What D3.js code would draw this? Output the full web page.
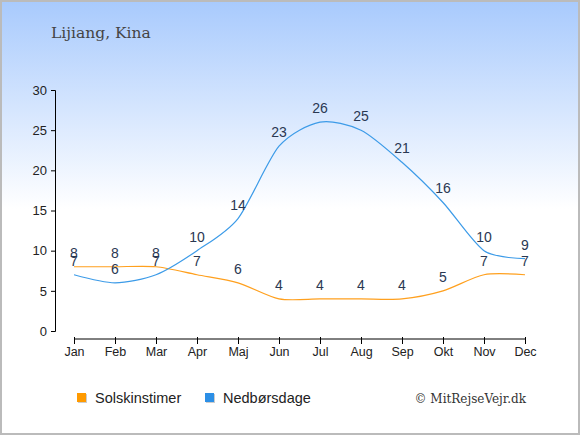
<!DOCTYPE html>
<html>
<head>
<meta charset="utf-8">
<script src="https://cdn.jsdelivr.net/npm/d3@7"></script>
<style>
  html, body { margin: 0; padding: 0; background: #fff; }
  svg { display: block; }
</style>
</head>
<body>
<div id="chart"></div>
<script>
const months = ["Jan", "Feb", "Mar", "Apr", "Maj", "Jun", "Jul", "Aug", "Sep", "Okt", "Nov", "Dec"];
const sunHours = [8, 8, 8, 7, 6, 4, 4, 4, 4, 5, 7, 7];
const rainDays = [7, 6, 7, 10, 14, 23, 26, 25, 21, 16, 10, 9];
const yTicks = [0, 5, 10, 15, 20, 25, 30];

const W = 580, H = 435;
const sunColor = "#ffa01e";
const rainColor = "#3c9be8";

const svg = d3.select("#chart").append("svg")
    .attr("width", W)
    .attr("height", H);

// background gradient
const grad = svg.append("defs").append("linearGradient")
    .attr("id", "bg")
    .attr("x1", 0).attr("y1", 0).attr("x2", 0).attr("y2", 1);
grad.append("stop").attr("offset", "0%").attr("stop-color", "#a8cafd");
grad.append("stop").attr("offset", "48%").attr("stop-color", "#ffffff");
grad.append("stop").attr("offset", "100%").attr("stop-color", "#ffffff");

svg.append("rect")
    .attr("x", 1).attr("y", 1)
    .attr("width", W - 2).attr("height", H - 2)
    .attr("fill", "url(#bg)")
    .attr("stroke", "#bbbbbb")
    .attr("stroke-width", 2);

svg.append("text")
    .attr("x", 51).attr("y", 38)
    .attr("font-family", "DejaVu Serif")
    .attr("font-size", 15.5)
    .attr("fill", "#444")
    .text("Lijiang, Kina");

const x = d3.scalePoint()
    .domain(months)
    .range([74, 525]);

const y = d3.scaleLinear()
    .domain([0, 30])
    .range([331, 90]);

// y axis
const yAxis = svg.append("g")
    .attr("transform", "translate(55,0)")
    .call(d3.axisLeft(y).tickValues(yTicks).tickSize(4).tickPadding(4));
yAxis.select(".domain").attr("stroke", "#000");
yAxis.selectAll("text")
    .attr("font-family", "Liberation Sans, Arial, sans-serif")
    .attr("font-size", 13)
    .attr("fill", "#222");

// x axis
const xAxis = svg.append("g")
    .attr("transform", "translate(0,339)")
    .call(d3.axisBottom(x).tickSize(5).tickSizeOuter(0).tickPadding(3));
xAxis.select(".domain").attr("d", "M74,0H525").attr("stroke", "#000");
xAxis.selectAll(".tick line").attr("y1", -2);
xAxis.selectAll("text")
    .attr("font-family", "Liberation Sans, Arial, sans-serif")
    .attr("font-size", 12.5)
    .attr("fill", "#222");

const line = d3.line()
    .x((d, i) => x(months[i]))
    .y(d => y(d))
    .curve(d3.curveCardinal.tension(0.2));

svg.append("path")
    .datum(sunHours)
    .attr("d", line)
    .attr("fill", "none")
    .attr("stroke", sunColor)
    .attr("stroke-width", 1.2);

svg.append("path")
    .datum(rainDays)
    .attr("d", line)
    .attr("fill", "none")
    .attr("stroke", rainColor)
    .attr("stroke-width", 1.2);

function addLabels(values) {
    svg.append("g").selectAll("text")
        .data(values)
        .enter().append("text")
        .attr("x", (d, i) => x(months[i]))
        .attr("y", d => y(d) - 9)
        .attr("text-anchor", "middle")
        .attr("font-family", "Liberation Sans, Arial, sans-serif")
        .attr("font-size", 14)
        .attr("fill", "#2a3852")
        .text(d => d);
}
addLabels(rainDays);
addLabels(sunHours);

// legend
const legend = [
    { name: "Solskinstimer", color: "#ff9a00", x: 77 },
    { name: "Nedbørsdage", color: "#2c8fe6", x: 205 }
];
legend.forEach(l => {
    svg.append("rect")
        .attr("x", l.x + 1).attr("y", 394)
        .attr("width", 9).attr("height", 9)
        .attr("fill", "#ccc");
    svg.append("rect")
        .attr("x", l.x).attr("y", 393)
        .attr("width", 9).attr("height", 9)
        .attr("fill", l.color);
    svg.append("text")
        .attr("x", l.x + 18).attr("y", 403)
        .attr("font-family", "Liberation Sans, Arial, sans-serif")
        .attr("font-size", 14.5)
        .attr("fill", "#222")
        .text(l.name);
});

svg.append("text")
    .attr("x", 526).attr("y", 403)
    .attr("text-anchor", "end")
    .attr("font-family", "DejaVu Serif")
    .attr("font-size", 12)
    .attr("fill", "#333")
    .text("© MitRejseVejr.dk");
</script>
</body>
</html>
